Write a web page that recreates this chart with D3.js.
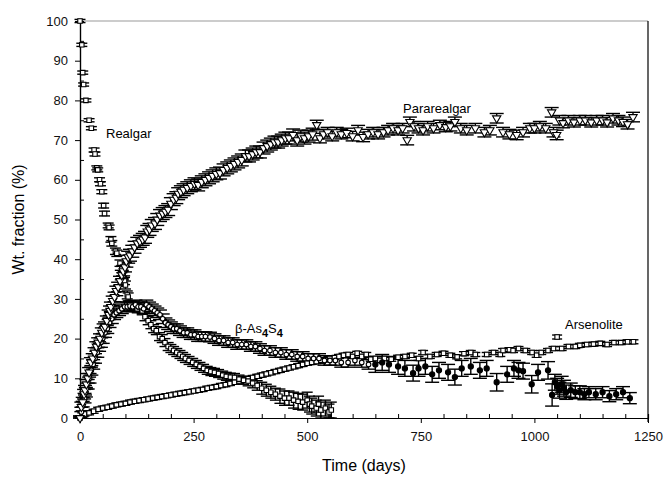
<!DOCTYPE html>
<html>
<head>
<meta charset="utf-8">
<script src="https://cdn.jsdelivr.net/npm/d3@7"></script>
<style>
  body { margin: 0; background: #fff; }
  svg { font-family: "Liberation Sans", Arial, sans-serif; }
</style>
</head>
<body>
<svg width="665" height="478"></svg>
<script>
// each point: [time (days), wt. fraction (%), error (+/-)]
let realgar = [
  [0,100,0.4],[4,94,0.4],[6,87,0.4],[8,84,0.4],[13,80,0.4],[20,75,0.4],[25,73,0.4],
  [31,67.5,0.5],[33,66.5,0.5],[37,63,0.5],[39,62.5,0.5],[43,60,0.5],[45,59,0.5],
  [48,57,0.5],[52,53.5,0.6],[54,51.5,0.6],[62,48.5,0.6],[64,48,0.6],[68,45,0.7],
  [70,44,0.7],[78,42,0.8],[81,41.5,0.8],[88,39,0.8],[92,37.5,0.9],[95,36,0.9],
  [98,34.5,0.9],[100,33.5,1],[104,31,1],[106,30.5,1],[110,28.5,1],[115,28,1],
  [120,28.5,1],[126,27.5,1],[131,28,1],[137,27,1],[143,25.5,1],[150,24.5,1],
  [156,23.5,1],[162,22.5,1],[168,22,1],[175,20.5,1],[181,20,1],[187,19,1],
  [194,18,1],[200,17.5,1],[206,17,1],[213,16.5,1],[220,16,1],[226,15.5,1],
  [232,15,1],[240,14.5,1],[248,14,1],[256,13.5,1],[264,13,1],[272,12.5,1],
  [280,12,1],[288,11.7,1],[296,11.5,1],[305,11.2,1],[314,10.8,1],[322,10.5,1],
  [331,10.3,1],[340,10.2,1],[350,9.8,1],[360,9.5,1],[370,9.3,1.2],[380,8.8,1.2],
  [390,8.2,1.2],[400,7.5,1.5],[410,7,1.5],[420,6.5,1.5],[430,6,1.5],[440,5.5,1.8],
  [450,5,1.8],[460,5,1.8],[470,4.5,2],[480,4.2,2],[490,4,2],[500,4.5,2],
  [505,3.5,2],[510,3,2],[520,2.5,2],[525,3.5,2],[530,2,2],[540,2.5,2],
  [548,1.5,2],[553,2,2]
];

let pararealgar = [
  [0,0,0.5],[3,2.8,1.2],[6,4,1.2],[9,6,1.2],[11,7,1.2],[14,8.5,1.2],[17,10,1.2],[20,11.5,1.2],
  [24,14,1.2],[28,15,1.2],[32,16.5,1.2],[36,18,1.2],[40,19,1.2],[44,20,1.2],[48,21.5,1.2],
  [52,22.5,1.2],[55,23,1.2],[59,24.5,1.2],[63,26,1.2],[66,27,1.2],[68,28,1.2],[72,29.5,1.2],
  [76,30.5,1.2],[80,32,1.2],[84,33,1.2],[88,34.5,1.2],[92,36,1.2],[95,37,1.2],[99,38,1.2],
  [102,39.5,1.5],[106,40.5,1.5],[110,41,1.5],[115,42,1.5],[120,43,1.5],[126,44,1.5],
  [132,44.5,1.5],[138,45,1.5],[143,45.5,1.5],[148,47,1.5],[153,47.5,1.5],[158,48.5,1.5],
  [165,49,1.5],[170,50,1.5],[176,51,1.5],[182,51.5,1.5],[188,52,1.5],[194,52.5,1.5],
  [200,54,1.5],[206,55,1.5],[212,55.5,1.5],[216,56.5,1.5],[222,57,1.5],[228,57.5,1.5],
  [236,58,1.5],[244,58.5,1.5],[252,59,1.5],[260,58.7,1.5],[268,59.5,1.5],[276,60,1.5],
  [284,60.5,1.5],[292,61,1.5],[300,61.5,1.5],[308,61.7,1.5],[316,62.5,1.5],[324,63,1.5],
  [332,63.5,1.5],[340,64,1.5],[348,64.5,1.5],[356,65,1.5],[364,66,1.5],[372,66,1.5],
  [380,66.5,1.5],[388,67,1.5],[396,67,1.5],[404,68,1.5],[412,68.5,1.5],[420,69,1.5],
  [428,69.5,1.5],[436,69.5,1.5],[444,70,1.5],[452,70.5,1.5],[460,70.5,1.5],[469,71.3,1.5],
  [478,70,1.5],[486,71,1.5],[494,70.5,1.5],[503,71,1.5],[512,71.5,1.5],[521,73.8,1.2],
  [528,70.5,1.2],[536,71.5,1.2],[545,72,1.2],[555,71,1.2],[565,72,1.2],[575,71.5,1.2],
  [587,71.8,1.2],[600,71,1.2],[612,72.5,1.2],[623,70.8,1.2],[634,71.5,1.2],[645,72,1.2],
  [656,71.5,1.2],[668,72,1.2],[678,72.5,1.2],[689,73,1.2],[700,72.5,1.2],[710,73,1.2],
  [720,70,1.2],[726,74.6,1.2],[735,73.5,1.2],[745,73,1.2],[755,72.5,1.2],[765,73.5,1.2],
  [778,73,1.2],[792,73.8,1.2],[805,73.3,1.2],[815,73.5,1.2],[825,74.6,1.2],[838,73,1.2],
  [851,72.5,1.2],[870,73,1.2],[890,72,1.2],[902,72.5,1.2],[917,75.5,1.2],[931,72,1.2],
  [945,71.5,1.2],[961,71.3,1.2],[975,72,1.2],[990,73,1.2],[1000,73,1.2],[1012,73.5,1.2],
  [1025,73,1.2],[1038,77,1.2],[1042,72,1.2],[1049,71.3,1.2],[1055,75,1.2],[1063,74.3,1.2],
  [1075,75,1.2],[1087,74.5,1.2],[1100,75,1.2],[1112,75,1.2],[1125,74.5,1.2],[1137,75,1.2],
  [1150,75,1.2],[1160,74.5,1.2],[1173,75.5,1.2],[1185,75,1.2],[1195,74.6,1.2],[1205,74,1.2],
  [1217,75.8,1.2]
];

let betaAs4S4 = [
  [0,0,0.5],[3,1.5,1.2],[6,3,1.2],[10,5,1.2],[13,6.5,1.2],[17,8.5,1.2],[21,10,1.2],[25,12,1.2],
  [29,13.5,1.2],[33,15,1.2],[38,16.5,1.2],[42,18,1.2],[46,19,1.2],[50,20,1.2],[55,21.5,1.2],
  [60,22.5,1.2],[65,24,1.2],[70,25,1.2],[75,26,1.2],[80,26.5,1.2],[86,27,1.2],[92,27.5,1.2],
  [98,28,1.2],[104,28,1.2],[110,28.2,1.2],[116,28,1.2],[122,28.5,1.2],[128,28,1.2],
  [134,28,1.2],[140,27.5,1.2],[146,28.5,1.2],[152,28,1.2],[158,27.5,1.2],[164,27,1.2],
  [170,26.5,1.2],[176,26,1.2],[182,25,1.2],[188,24,1.2],[194,23.5,1.2],[200,23,1.2],
  [206,22.5,1.2],[213,22.5,1.2],[220,22,1.2],[228,21.5,1.2],[236,21.5,1.2],[244,21,1.2],
  [252,21,1.2],[260,20.5,1.2],[268,20.5,1.2],[276,20.5,1.2],[286,20.4,1.2],[296,20,1.2],
  [306,19.5,1.2],[316,19.5,1.2],[326,19,1.2],[336,19,1.2],[346,18.5,1.2],[356,18.5,1.2],
  [366,18.5,1.2],[376,18,1.2],[386,18,1.2],[396,17.5,1.2],[406,17,1.2],[418,17,1.2],
  [430,16.5,1.2],[442,16.5,1.2],[454,16,1.2],[466,16,1.2],[478,15.5,1.2],[490,15.5,1.2],
  [502,15,1.2],[514,15,1.2],[526,15,1.2],[538,14.5,1.2],[550,14.5,1.2],[562,14.5,1.2],
  [575,14,1.2],[590,14,1.2],[605,14.5,1.2],[620,14,1.2],[635,13.5,1.2],[650,13.5,2],
  [665,14,2],[680,13.5,2],[700,13,2],[715,12.5,2],[733,11.3,2],
  [745,12.5,2],[760,13,2],[775,11,2],[790,12,2],[810,11.5,2],
  [825,10.3,2],[840,12.5,2],[860,13,2],[880,12,2],[895,12.5,2],
  [917,9,2.2],[940,11,2],[955,12.5,2],[965,12,2],[975,11.8,2],
  [994,8.5,2.2],[1008,11.5,2],[1030,12,2.2],[1039,5.8,2.8],[1045,9,2],
  [1050,8,2],[1055,7,2],[1060,8.5,2],[1065,7.5,2],[1070,6.5,1.8],
  [1080,7,1.8],[1090,6.5,1.6],[1100,6.5,1.6],[1110,6,1.4],[1120,6.5,1.4],
  [1135,6,1.4],[1150,6.5,1.4],[1165,5.5,1.4],[1180,6,1.4],[1195,6.5,1.4],[1210,5,1.4]
];

let arsenolite = [
  [0,0,0.5],[5,0.8,0.5],[10,1,0.5],[20,1.3,0.5],[30,1.7,0.5],[40,2.2,0.5],
  [50,2.5,0.5],[60,2.7,0.5],[70,3,0.5],[80,3.3,0.5],[90,3.5,0.5],[100,3.7,0.5],
  [110,4,0.5],[120,4.2,0.5],[130,4.4,0.5],[140,4.6,0.5],[150,4.8,0.5],
  [160,5,0.5],[170,5.2,0.5],[180,5.4,0.5],[190,5.6,0.5],[200,5.8,0.5],
  [210,6,0.5],[220,6.2,0.5],[230,6.4,0.5],[240,6.6,0.5],[250,6.8,0.5],
  [260,7,0.5],[270,7.2,0.5],[280,7.5,0.5],[290,7.7,0.5],[300,7.9,0.5],
  [310,8.2,0.5],[320,8.4,0.5],[330,8.7,0.5],[340,9,0.5],[350,9.3,0.5],
  [360,9.6,0.5],[370,9.9,0.5],[380,10.2,0.5],[390,10.5,0.5],[400,10.8,0.5],
  [410,11.1,0.5],[420,11.4,0.5],[430,11.7,0.5],[440,12,0.5],[450,12.3,0.5],
  [460,12.6,0.5],[470,12.9,0.5],[480,13.2,0.5],[490,13.5,0.5],[500,13.8,0.5],
  [510,14,0.5],[520,14.2,0.5],[530,14.5,0.5],[540,14.7,0.5],[550,15,0.5],
  [560,15.2,0.5],[570,15.5,0.5],[580,15.8,0.5],[590,16,0.5],[600,15.5,0.5],
  [610,16.3,0.5],[620,15.5,0.5],[630,16,0.5],[640,14.8,0.5],[650,15,0.5],
  [660,14.5,0.5],[670,15,0.5],[685,14.8,0.5],[700,15.3,0.5],[715,15.5,0.5],
  [730,15.8,0.5],[745,15,0.5],[755,16.5,0.5],[770,15.5,0.5],[785,16,0.5],
  [800,16.3,0.5],[815,15.8,0.5],[830,15.4,0.5],[845,16.2,0.5],[860,16.5,0.5],
  [870,16,0.5],[895,16,0.5],[910,16.5,0.5],[925,16,0.5],[931,17,0.5],
  [945,17.2,0.5],[953,17,0.5],[965,17.5,0.5],[980,17,0.5],[995,16.5,0.5],
  [1005,15.8,0.5],[1015,16.5,0.5],[1030,17,0.5],[1042,17.5,0.5],[1050,20.4,0.5],
  [1060,17.5,0.5],[1075,18,0.5],[1090,18,0.5],[1100,18.3,0.5],[1115,18.5,0.5],
  [1130,18.6,0.5],[1145,18.8,0.5],[1160,18.5,0.5],[1175,19,0.5],[1190,19,0.5],
  [1205,19.2,0.5],[1218,19.2,0.5]
];

let x_ticks = [0, 250, 500, 750, 1000, 1250];
let y_ticks = [0, 10, 20, 30, 40, 50, 60, 70, 80, 90, 100];

// beta-As4S4 points drawn filled from this day on
let BETA_FILLED_FROM = 650;

var margin = { top: 21, right: 17, bottom: 60, left: 80 };
let width = 665 - margin.left - margin.right;
let height = 478 - margin.top - margin.bottom;

var xScale = d3.scaleLinear().domain([0, 1250]).range([0, width]);
var yScale = d3.scaleLinear().domain([0, 100]).range([height, 0]);

var svg = d3
  .select("svg")
  .append("g")
  .attr("transform", "translate(" + margin.left + "," + margin.top + ")");

// frame: grey top, black right
svg.append("line")
  .attr("x1", 0).attr("x2", width).attr("y1", 0).attr("y2", 0)
  .attr("stroke", "#999").attr("stroke-width", 1);
svg.append("line")
  .attr("x1", width).attr("x2", width).attr("y1", 0).attr("y2", height + 4)
  .attr("stroke", "#000").attr("stroke-width", 1.2);

// minor ticks (inside)
svg.append("g")
  .attr("class", "minor")
  .attr("transform", "translate(0," + height + ")")
  .call(d3.axisBottom(xScale)
    .tickValues(d3.range(50, 1250, 50).filter(d => d % 250 != 0))
    .tickSize(-4).tickFormat(""));
svg.append("g")
  .attr("class", "minor")
  .call(d3.axisLeft(yScale)
    .tickValues(d3.range(5, 100, 10))
    .tickSize(-4).tickFormat(""));

// major axes
svg.append("g")
  .attr("class", "x axis")
  .attr("transform", "translate(0," + height + ")")
  .call(d3.axisBottom(xScale).tickValues(x_ticks).tickFormat(d3.format("d"))
    .tickSize(5).tickPadding(9).tickSizeOuter(0))
  .append("text")
  .attr("x", width / 2)
  .attr("y", 53)
  .attr("fill", "#000")
  .style("text-anchor", "middle")
  .attr("font-size", "16px")
  .text("Time (days)");

svg.append("g")
  .attr("class", "y axis")
  .call(d3.axisLeft(yScale).tickValues(y_ticks).tickSize(5).tickPadding(7).tickSizeOuter(0))
  .append("text")
  .attr("transform", "rotate(-90)")
  .attr("x", -height / 2)
  .attr("y", -56)
  .attr("fill", "#000")
  .style("text-anchor", "middle")
  .attr("font-size", "16px")
  .text("Wt. fraction (%)");

svg.selectAll(".axis .tick text").attr("font-size", "13px").attr("fill", "#111");
svg.selectAll(".domain").attr("stroke", "#000").attr("stroke-width", 1.2);
svg.selectAll(".tick line").attr("stroke", "#000");

// error bars + markers
function errorBars(data, cap) {
  let g = svg.append("g").attr("class", "err");
  data.forEach(d => {
    let cx = xScale(d[0]);
    let y1 = yScale(d[1] + d[2]), y2 = yScale(Math.max(0, d[1] - d[2]));
    g.append("line").attr("x1", cx).attr("x2", cx).attr("y1", y1).attr("y2", y2);
    g.append("line").attr("x1", cx - cap / 2).attr("x2", cx + cap / 2).attr("y1", y1).attr("y2", y1);
    g.append("line").attr("x1", cx - cap / 2).attr("x2", cx + cap / 2).attr("y1", y2).attr("y2", y2);
  });
  g.selectAll("line").attr("stroke", "#000").attr("stroke-width", 1.4);
}

errorBars(arsenolite, 10);
errorBars(realgar, 11);
errorBars(betaAs4S4, 14);
errorBars(pararealgar, 14);

let sq = d3.symbol().type(d3.symbolSquare).size(20);
let tri = d3.symbol().type(d3.symbolTriangle).size(30);

svg.append("g").selectAll("path")
  .data(arsenolite).enter().append("path")
  .attr("d", sq)
  .attr("transform", d => "translate(" + xScale(d[0]) + "," + yScale(d[1]) + ")")
  .attr("fill", "#fff").attr("stroke", "#000").attr("stroke-width", 1.1);

svg.append("g").selectAll("path")
  .data(realgar).enter().append("path")
  .attr("d", sq)
  .attr("transform", d => "translate(" + xScale(d[0]) + "," + yScale(d[1]) + ")")
  .attr("fill", "#fff").attr("stroke", "#000").attr("stroke-width", 1.1);

svg.append("g").selectAll("circle")
  .data(betaAs4S4).enter().append("circle")
  .attr("cx", d => xScale(d[0]))
  .attr("cy", d => yScale(d[1]))
  .attr("r", d => d[0] >= BETA_FILLED_FROM ? 2.6 : 2.3)
  .attr("fill", d => d[0] >= BETA_FILLED_FROM ? "#000" : "#fff")
  .attr("stroke", "#000").attr("stroke-width", 1.1);

svg.append("g").selectAll("path")
  .data(pararealgar).enter().append("path")
  .attr("d", tri)
  .attr("transform", d => "translate(" + xScale(d[0]) + "," + yScale(d[1]) + ") rotate(180)")
  .attr("fill", "#fff").attr("stroke", "#000").attr("stroke-width", 1.1);

// series labels
let labels = svg.append("g").attr("font-size", "13px").attr("fill", "#000");
labels.append("text").attr("x", 106 - margin.left).attr("y", 138 - margin.top).text("Realgar");
labels.append("text").attr("x", 403 - margin.left).attr("y", 113 - margin.top).text("Pararealgar");
labels.append("text").attr("x", 565 - margin.left).attr("y", 329 - margin.top).text("Arsenolite");
let beta = labels.append("text").attr("x", 235 - margin.left).attr("y", 333 - margin.top);
beta.append("tspan").text("β-As");
beta.append("tspan").attr("dy", 4).attr("font-size", "11px").attr("font-weight", "bold").text("4");
beta.append("tspan").attr("dy", -4).text("S");
beta.append("tspan").attr("dy", 4).attr("font-size", "11px").attr("font-weight", "bold").text("4");
</script>
</body>
</html>
